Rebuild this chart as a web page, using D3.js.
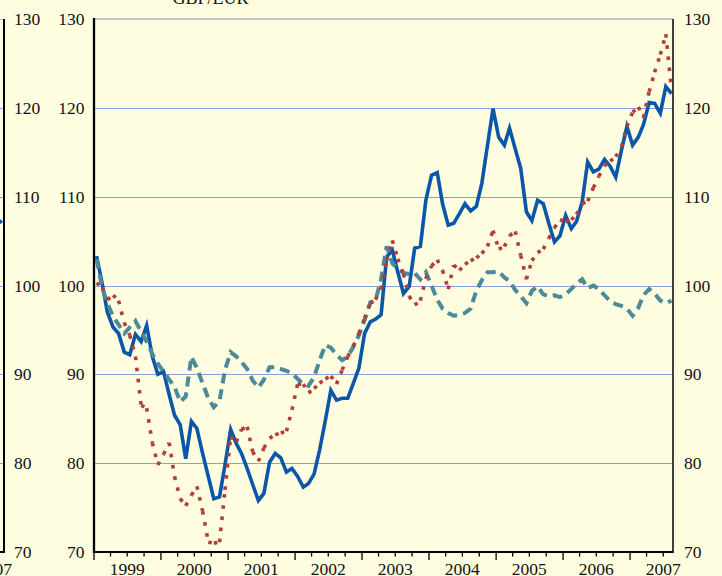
<!DOCTYPE html>
<html>
<head>
<meta charset="utf-8">
<script src="https://cdn.jsdelivr.net/npm/d3@7"></script>
<style>
  html, body { margin: 0; padding: 0; background: #FFFDE0; }
  svg { display: block; }
</style>
</head>
<body>
<svg id="chart" width="722" height="576"></svg>
<script>
// Monthly index values, January 1999 to August 2007
const firstMonth = new Date(1999, 0, 15);
const yearLabels = ["1999", "2000", "2001", "2002", "2003", "2004", "2005", "2006", "2007"];
const yTicks = [70, 80, 90, 100, 110, 120, 130];

const seriesSolid = [
  103.3, 100.2, 97.0, 95.3, 94.6, 92.5, 92.2, 94.5, 93.7, 95.5, 92.0, 90.0,
  90.3, 87.7, 85.4, 84.3, 80.5, 84.7, 83.9, 81.1, 78.5, 76.0, 76.2, 79.8,
  83.8, 82.2, 81.1, 79.4, 77.6, 75.8, 76.6, 80.1, 81.1, 80.6, 79.0, 79.4,
  78.5, 77.3, 77.7, 78.8, 81.5, 84.8, 88.2, 87.1, 87.3, 87.3, 89.0, 90.7,
  94.6, 95.9, 96.2, 96.7, 103.2, 104.0, 101.5, 99.1, 99.9, 104.2, 104.4, 109.6,
  112.4, 112.7, 109.2, 106.8, 107.0, 108.1, 109.2, 108.4, 108.9, 111.5, 115.8, 119.9,
  116.7, 115.8, 117.7, 115.4, 113.2, 108.3, 107.3, 109.6, 109.2, 107.0, 104.9, 105.6,
  107.9, 106.4, 107.2, 109.4, 113.9, 112.8, 113.1, 114.2, 113.4, 112.2, 115.2, 117.9,
  115.8, 116.7, 118.1, 120.6, 120.5, 119.4, 122.4, 121.6
];

const seriesDotted = [
  100.3, 99.8, 98.4, 98.9, 98.3, 95.8, 94.4, 92.0, 86.5, 86.2, 82.3, 79.8,
  81.0, 82.3, 78.5, 76.0, 75.2, 76.4, 77.4, 74.6, 71.1, 71.0, 71.1, 77.0,
  83.0, 82.4, 83.8, 84.1, 81.3, 80.2, 81.7, 82.8, 83.2, 83.4, 83.6, 86.0,
  88.9, 88.9, 87.9, 88.4, 89.0, 89.5, 89.8, 88.9, 90.5, 92.0, 93.2, 94.6,
  96.3, 98.0, 98.4, 99.6, 102.8, 105.1, 103.0, 101.3, 98.8, 97.8, 98.3, 100.8,
  102.2, 102.9, 101.7, 99.6, 102.3, 101.7, 102.4, 102.8, 103.1, 103.6, 104.4, 106.2,
  104.1, 104.4, 105.6, 106.1, 103.4, 100.7, 102.8, 103.7, 104.1, 105.3, 106.5, 107.4,
  107.2, 107.4, 108.0, 109.2, 109.5, 111.0, 112.3, 113.5, 114.0, 114.5, 115.6, 117.9,
  119.5, 120.1, 118.9, 121.8, 124.0, 126.0, 128.3, 122.0
];

const seriesDashed = [
  103.0, 99.7, 98.0, 96.5, 95.6, 94.6, 95.3, 96.0, 94.8, 93.7, 92.3, 91.2,
  90.3, 89.4, 88.6, 86.9, 87.5, 92.0, 90.7, 89.0, 87.3, 86.3, 87.0, 90.5,
  92.5, 92.0, 91.4, 90.6, 89.3, 88.5, 89.4, 90.8, 90.8, 90.6, 90.4, 90.1,
  89.5, 88.9, 88.7, 89.7, 91.6, 93.3, 93.0, 92.2, 91.6, 92.0, 93.1, 94.4,
  96.1, 98.1, 98.3, 100.7, 104.4, 102.5, 101.9, 101.4, 101.3, 101.4, 100.7, 101.5,
  100.0, 98.4, 97.4, 96.9, 96.6, 96.7, 96.9, 97.4, 99.4, 100.6, 101.5, 101.5,
  101.6, 100.9, 100.5, 99.5, 98.8, 98.0, 99.4, 99.9, 99.0, 98.8, 98.9, 98.7,
  99.0, 99.6, 100.2, 100.7, 99.7, 100.0, 99.6, 98.9, 98.2, 97.9, 97.7, 97.4,
  96.6, 97.5, 98.9, 99.6, 99.1, 98.3, 98.0, 98.3
];

const months = seriesSolid.map((_, i) => d3.timeMonth.offset(firstMonth, i));

// Plot frame
const frameLeft = 94, frameRight = 673, frameTop = 19, frameBottom = 552;
const svg = d3.select("#chart");
const fontFamily = "'Liberation Serif', 'Times New Roman', serif";

const x = d3.scaleTime()
  .domain([new Date(1999, 0, 1), new Date(2008, 0, 1)])
  .range([frameLeft, frameLeft + 9 * 67]);
const y = d3.scaleLinear().domain([70, 130]).range([frameBottom, frameTop]);
// pixel-aligned position for thin horizontal rules
const crispY = v => Math.round(y(v)) + 0.5;

svg.append("rect").attr("width", 722).attr("height", 576).attr("fill", "#FFFDE0");

// Edge of the neighbouring panel on the left
const edge = svg.append("g");
edge.selectAll("line.stub").data(yTicks.filter(v => v > 70)).join("line")
  .attr("x1", 0).attr("x2", 4)
  .attr("y1", d => crispY(d)).attr("y2", d => crispY(d))
  .attr("stroke", d => d === 130 ? "#C2C3CC" : "#8D9FDB").attr("stroke-width", 1);
edge.append("line").attr("x1", 4).attr("x2", 4).attr("y1", frameTop).attr("y2", frameBottom)
  .attr("stroke", "#000").attr("stroke-width", 2);
edge.append("line").attr("x1", 0).attr("x2", 5).attr("y1", frameBottom).attr("y2", frameBottom)
  .attr("stroke", "#000").attr("stroke-width", 2);
edge.append("line").attr("x1", -4).attr("y1", y(106.8)).attr("x2", 2).attr("y2", y(107.3))
  .attr("stroke", "#0A56A8").attr("stroke-width", 3.5);
edge.selectAll("text").data(yTicks).join("text")
  .attr("x", 14).attr("y", d => y(d) + 6)
  .attr("font-family", fontFamily).attr("font-size", 17.5).attr("fill", "#111")
  .text(d => d);
edge.append("text").attr("x", 12).attr("y", 575).attr("text-anchor", "end")
  .attr("font-family", fontFamily).attr("font-size", 17.5).attr("fill", "#111")
  .text("2007");

// Title
svg.append("text").attr("x", 172.5).attr("y", 3.5)
  .attr("font-family", fontFamily).attr("font-size", 18).attr("fill", "#111")
  .text("GBP/EUR");

// Horizontal gridlines
svg.append("g").selectAll("line").data(yTicks.filter(v => v > 70)).join("line")
  .attr("x1", frameLeft).attr("x2", frameRight)
  .attr("y1", d => d === 130 ? y(d) : crispY(d))
  .attr("y2", d => d === 130 ? y(d) : crispY(d))
  .attr("stroke", d => d === 130 ? "#C2C3CC" : "#8D9FDB")
  .attr("stroke-width", d => d === 130 ? 2 : 1);

// Value axes on both sides
svg.append("g").selectAll("text").data(yTicks).join("text")
  .attr("x", 84.5).attr("y", d => y(d) + 6).attr("text-anchor", "end")
  .attr("font-family", fontFamily).attr("font-size", 17.5).attr("fill", "#111")
  .text(d => d);
svg.append("g").selectAll("text").data(yTicks).join("text")
  .attr("x", 684).attr("y", d => y(d) + 6)
  .attr("font-family", fontFamily).attr("font-size", 17.5).attr("fill", "#111")
  .text(d => d);

// Series
svg.append("clipPath").attr("id", "plot-clip")
  .append("rect").attr("x", frameLeft).attr("y", frameTop - 5)
  .attr("width", frameRight - frameLeft).attr("height", frameBottom - frameTop + 5);
const plot = svg.append("g").attr("clip-path", "url(#plot-clip)");

const line = d3.line().x((d, i) => x(months[i])).y(d => y(d));

plot.append("path").datum(seriesSolid).attr("d", line)
  .attr("fill", "none").attr("stroke", "#0A56A8").attr("stroke-width", 3.6)
  .attr("stroke-linejoin", "miter");

plot.append("path").datum(seriesDashed).attr("d", line)
  .attr("fill", "none").attr("stroke", "#4A8A9B").attr("stroke-width", 4)
  .attr("stroke-dasharray", "10,6");

// Dotted series: dash pattern restarts on every monthly segment
const segs = d3.pairs(seriesDotted.map((v, i) => [x(months[i]), y(v)]));
plot.append("g").selectAll("line").data(segs).join("line")
  .attr("x1", d => d[0][0]).attr("y1", d => d[0][1])
  .attr("x2", d => d[1][0]).attr("y2", d => d[1][1])
  .attr("stroke", "#B23E3A").attr("stroke-width", 3.6)
  .attr("stroke-dasharray", "3.6,7.6");

// Frame lines
svg.append("line").attr("x1", frameLeft).attr("x2", frameLeft).attr("y1", frameTop - 1).attr("y2", frameBottom + 1)
  .attr("stroke", "#000").attr("stroke-width", 2.3);
svg.append("line").attr("x1", frameRight).attr("x2", frameRight).attr("y1", frameTop).attr("y2", frameBottom + 1)
  .attr("stroke", "#000").attr("stroke-width", 1.5);
svg.append("line").attr("x1", frameLeft).attr("x2", frameRight).attr("y1", frameBottom).attr("y2", frameBottom)
  .attr("stroke", "#000").attr("stroke-width", 2);

// Time axis: quarterly ticks, longer at year starts, year labels centred in each year
const quarterTicks = d3.timeMonth.every(3).range(new Date(1999, 0, 1), new Date(2007, 7, 20));
svg.append("g").selectAll("line").data(quarterTicks).join("line")
  .attr("x1", d => x(d)).attr("x2", d => x(d))
  .attr("y1", frameBottom).attr("y2", d => d.getMonth() === 0 ? frameBottom + 8 : frameBottom + 4.5)
  .attr("stroke", "#000").attr("stroke-width", 1.3);

svg.append("g").selectAll("text").data(yearLabels).join("text")
  .attr("x", d => x(new Date(+d, 6, 1)))
  .attr("y", 575).attr("text-anchor", "middle")
  .attr("font-family", fontFamily).attr("font-size", 17.5).attr("fill", "#111")
  .text(d => d);
</script>
</body>
</html>
